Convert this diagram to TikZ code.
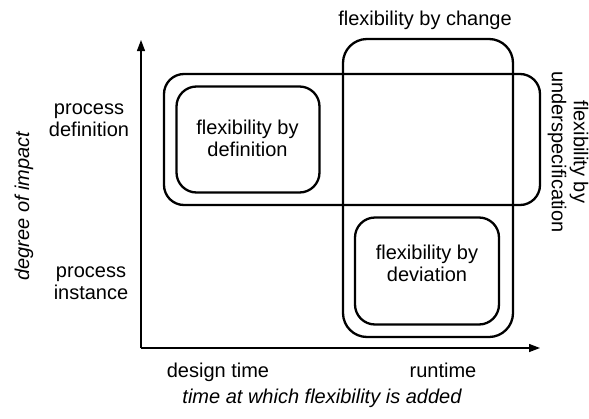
\documentclass[tikz,border=0pt]{standalone}
\usepackage{fontspec}
\setmainfont{Liberation Sans}
\usetikzlibrary{arrows.meta}
\begin{document}
\begin{tikzpicture}[x=1pt,y=-1pt,
  every node/.style={font=\fontsize{20}{22}\selectfont, inner sep=0pt},
  region/.style={draw, line width=2.3pt, rounded corners=#1},
  axis/.style={line width=1.3pt, -{Triangle[length=11pt,width=8pt]}},
  lbl/.style={align=center},
]
\useasboundingbox (0,0) rectangle (589,418);

% flexibility regions
\node[region=20pt, minimum width=376pt, minimum height=131pt] (under) at (352,139.5) {};
\node[region=24pt, minimum width=170pt, minimum height=298pt] (change) at (428,188) {};
\node[region=20pt, minimum width=143pt, minimum height=106pt] (def) at (248,139.5) {};
\node[region=20pt, minimum width=144pt, minimum height=107pt] (dev) at (427,271) {};

% texts inside the inner regions
\node[lbl] (deftext) at (247.5,138) {flexibility by\\definition};
\node[lbl] (devtext) at (427,263.5) {flexibility by\\deviation};

% axes
\coordinate (o) at (141,348);
\coordinate (ytip) at (141,40);
\coordinate (xtip) at (540,348);
\draw[axis] (o) -- (ytip);
\draw[axis] (o) -- (xtip);

% region labels
\node[anchor=base] (changelbl) at (425,25) {flexibility by change};
\node[lbl, rotate=-90] (underlbl) at (568,152) {flexibility by\\underspecification};

% axis labels
\node[lbl] (procdef) at (89,120.5) {process\\definition};
\node[lbl] (procinst) at (91,283) {process\\instance};
\node[anchor=base, rotate=90, font=\fontsize{20}{22}\selectfont\itshape] (ylbl) at (29,206) {degree of impact};
\node[anchor=base] (design) at (218,377) {design time};
\node[anchor=base] (runtime) at (443,377) {runtime};
\node[anchor=base, font=\fontsize{20}{22}\selectfont\itshape] (xlbl) at (322,403) {time at which flexibility is added};
\end{tikzpicture}
\end{document}
